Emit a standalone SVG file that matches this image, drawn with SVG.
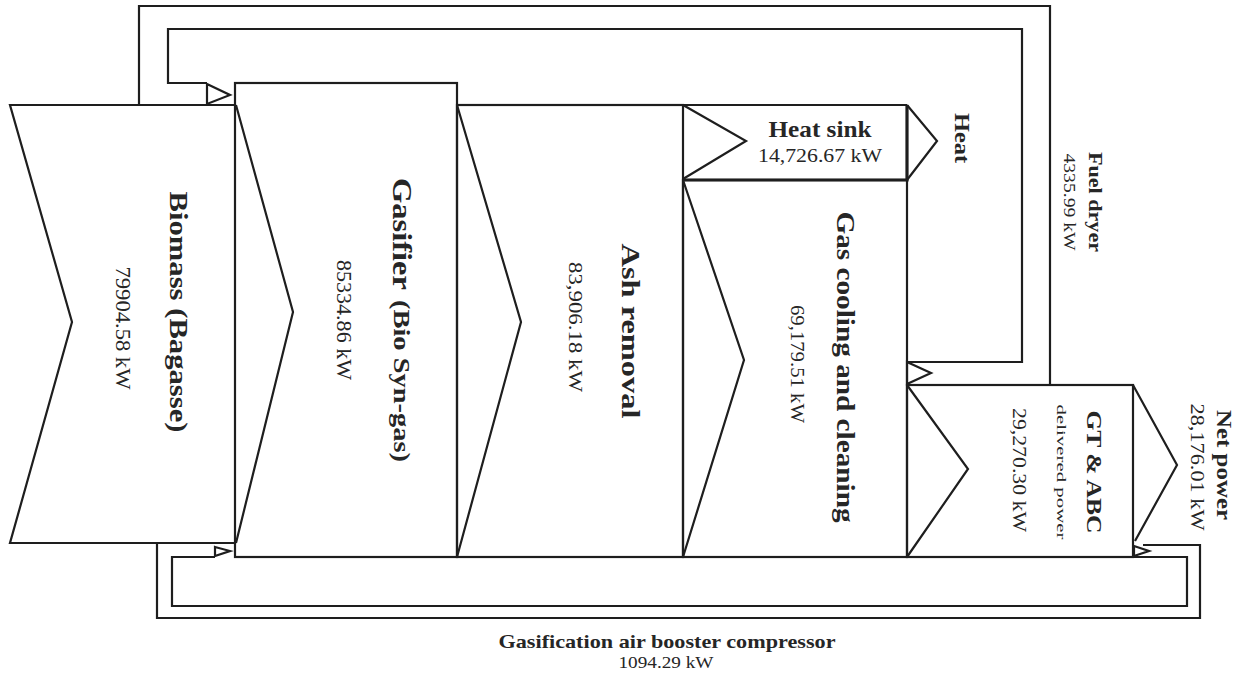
<svg xmlns="http://www.w3.org/2000/svg" width="1240" height="677" viewBox="0 0 1240 677">
<style>
.ln{fill:none;stroke:#1e1e1e;stroke-width:2.2;stroke-linejoin:miter}
.thk{stroke-width:3.2}
text{font-family:"Liberation Serif","Times New Roman",serif;fill:#262626}
.b{font-weight:bold}
</style>
<rect width="1240" height="677" fill="#fff"/>
<g id="connectors">
  <g id="fuel-dryer-loop">
    <path class="ln" d="M907,362 H1022 V29 H168 V83 H207"/>
    <path class="ln" d="M1050,385 V6 H139 V105"/>
    <polygon class="ln" points="907,362 931,373 907,384"/>
    <polygon class="ln" points="207,84 230,95 207,104"/>
  </g>
  <g id="compressor-loop">
    <path class="ln" d="M1143,545 H1200 V618 H157 V543"/>
    <path class="ln" d="M1133,557 H1187 V606 H172 V557 H215"/>
    <polygon class="ln" points="1134,546 1149,551 1134,556"/>
    <polygon class="ln" points="215,547 230,551 215,556"/>
  </g>
</g>
<g id="gasifier">
  <rect class="ln" x="235" y="83" width="222" height="474"/>
  <polyline class="ln" points="457,105 521,322 457,557"/>
  <text class="b" transform="translate(393,234) rotate(90)" text-anchor="middle" font-size="28" textLength="112" lengthAdjust="spacingAndGlyphs">Gasifier</text>
  <text class="b" transform="translate(394,381) rotate(90)" text-anchor="middle" font-size="23" textLength="162" lengthAdjust="spacingAndGlyphs">(Bio Syn-gas)</text>
  <text transform="translate(337,320) rotate(90)" text-anchor="middle" font-size="20" textLength="120" lengthAdjust="spacingAndGlyphs">85334.86 kW</text>
</g>
<g id="biomass">
  <path class="ln" d="M236,105 H10 L72,322 L10,543 H236"/>
  <polyline class="ln" points="236,105 293,312 236,543"/>
  <text class="b" transform="translate(170,312) rotate(90)" text-anchor="middle" font-size="26" textLength="241" lengthAdjust="spacingAndGlyphs">Biomass (Bagasse)</text>
  <text transform="translate(116,328) rotate(90)" text-anchor="middle" font-size="20" textLength="123" lengthAdjust="spacingAndGlyphs">79904.58 kW</text>
</g>
<g id="ash-removal">
  <rect class="ln" x="457" y="105" width="226" height="452"/>
  <polyline class="ln" points="683,105 746,141 683,179"/>
  <polyline class="ln" points="683,180 744,360 683,557"/>
  <text class="b" transform="translate(622,331) rotate(90)" text-anchor="middle" font-size="26" textLength="175" lengthAdjust="spacingAndGlyphs">Ash removal</text>
  <text transform="translate(569,327) rotate(90)" text-anchor="middle" font-size="19" textLength="130" lengthAdjust="spacingAndGlyphs">83,906.18 kW</text>
</g>
<g id="heat-sink">
  <path class="ln" d="M683,105 H907"/>
  <path class="ln thk" d="M683,180 H907 V105"/>
  <polyline class="ln" points="907,105 937,141 907,180"/>
  <text class="b" x="820" y="137" text-anchor="middle" font-size="23" textLength="103" lengthAdjust="spacingAndGlyphs">Heat sink</text>
  <text x="820" y="162" text-anchor="middle" font-size="19" textLength="124" lengthAdjust="spacingAndGlyphs">14,726.67 kW</text>
  <text class="b" transform="translate(955,138) rotate(90)" text-anchor="middle" font-size="20" textLength="50" lengthAdjust="spacingAndGlyphs">Heat</text>
</g>
<g id="gas-cooling">
  <rect class="ln" x="683" y="180" width="224" height="377"/>
  <polyline class="ln" points="907,385 968,469 907,557"/>
  <text class="b" transform="translate(837,367) rotate(90)" text-anchor="middle" font-size="25" textLength="311" lengthAdjust="spacingAndGlyphs">Gas cooling and cleaning</text>
  <text transform="translate(791,364) rotate(90)" text-anchor="middle" font-size="18" textLength="118" lengthAdjust="spacingAndGlyphs">69,179.51 kW</text>
</g>
<g id="gt-abc">
  <rect class="ln" x="907" y="385" width="226" height="172"/>
  <polyline class="ln" points="1133,385 1177,465 1135,541"/>
  <text class="b" transform="translate(1087,472) rotate(90)" text-anchor="middle" font-size="22" textLength="123" lengthAdjust="spacingAndGlyphs">GT &amp; ABC</text>
  <text transform="translate(1057,472) rotate(90)" text-anchor="middle" font-size="13" textLength="135" lengthAdjust="spacingAndGlyphs">delivered power</text>
  <text transform="translate(1013,470) rotate(90)" text-anchor="middle" font-size="19" textLength="124" lengthAdjust="spacingAndGlyphs">29,270.30 kW</text>
</g>
<g id="net-power">
  <text class="b" transform="translate(1217,465) rotate(90)" text-anchor="middle" font-size="20" textLength="110" lengthAdjust="spacingAndGlyphs">Net power</text>
  <text transform="translate(1191,467) rotate(90)" text-anchor="middle" font-size="19" textLength="127" lengthAdjust="spacingAndGlyphs">28,176.01 kW</text>
</g>
<g id="fuel-dryer-label">
  <text class="b" transform="translate(1089,202) rotate(90)" text-anchor="middle" font-size="19" textLength="100" lengthAdjust="spacingAndGlyphs">Fuel dryer</text>
  <text transform="translate(1064,202) rotate(90)" text-anchor="middle" font-size="17" textLength="97" lengthAdjust="spacingAndGlyphs">4335.99 kW</text>
</g>
<g id="compressor-label">
  <text class="b" x="667" y="648" text-anchor="middle" font-size="19" textLength="337" lengthAdjust="spacingAndGlyphs">Gasification air booster compressor</text>
  <text x="666" y="668" text-anchor="middle" font-size="17" textLength="95" lengthAdjust="spacingAndGlyphs">1094.29 kW</text>
</g>
</svg>
